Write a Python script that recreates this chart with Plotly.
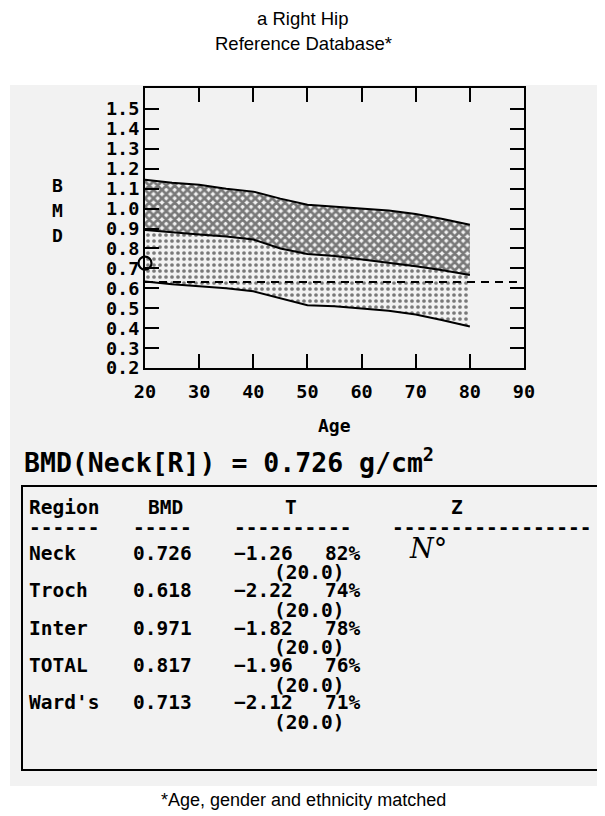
import plotly.graph_objects as go

# ---------------- data ----------------
ages = [20, 25, 30, 35, 40, 45, 50, 55, 60, 65, 70, 75, 80]
upper_bmd = [1.145, 1.13, 1.12, 1.10, 1.085, 1.05, 1.019, 1.01, 1.002, 0.99, 0.973, 0.948, 0.919]
mean_bmd = [0.893, 0.88, 0.87, 0.86, 0.845, 0.80, 0.772, 0.762, 0.745, 0.727, 0.71, 0.69, 0.667]
lower_bmd = [0.634, 0.62, 0.61, 0.60, 0.585, 0.55, 0.515, 0.51, 0.50, 0.487, 0.468, 0.44, 0.408]

young_ref_age = [20, 88.7]
young_ref_bmd = [0.632, 0.632]

patient_age = [20]
patient_bmd = [0.726]

y_ticks = [0.2, 0.3, 0.4, 0.5, 0.6, 0.7, 0.8, 0.9, 1.0, 1.1, 1.2, 1.3, 1.4, 1.5]
x_ticks = [20, 30, 40, 50, 60, 70, 80, 90]

regions = ["Neck", "Troch", "Inter", "TOTAL", "Ward's"]
bmd_vals = ["0.726", "0.618", "0.971", "0.817", "0.713"]
t_scores = ["\u22121.26", "\u22122.22", "\u22121.82", "\u22121.96", "\u22122.12"]
t_pcts = ["82%", "74%", "78%", "76%", "71%"]
t_ages = ["(20.0)", "(20.0)", "(20.0)", "(20.0)", "(20.0)"]

# ---------------- layout geometry (reference-window pixels) ----------------
OFF = 8                      # default page body margin
W, H = 605 - OFF, 816 - OFF  # figure size so that it fills the window
L, R, T, B = 145, 524, 88, 368
PW, PH = R - L, B - T
MONO = "DejaVu Sans Mono"
SANS = "Liberation Sans"
BG = "#f2f2f2"
TBL = 19.5


def px(x):
    return (x - L) / PW


def py(y):
    return (B - y) / PH


fig = go.Figure()

# lower boundary
fig.add_trace(go.Scatter(x=ages, y=lower_bmd, mode="lines",
                         line=dict(color="black", width=2), showlegend=False))
# dotted band
fig.add_trace(go.Scatter(x=ages, y=mean_bmd, mode="lines", fill="tonexty",
                         fillcolor=BG,
                         fillpattern=dict(shape=".", size=6, solidity=0.3,
                                          fgcolor="black", bgcolor=BG),
                         line=dict(color="black", width=2), showlegend=False))
# hatched band
fig.add_trace(go.Scatter(x=ages, y=upper_bmd, mode="lines", fill="tonexty",
                         fillcolor=BG,
                         fillpattern=dict(shape="x", size=6, solidity=0.7,
                                          fgcolor="black", bgcolor=BG),
                         line=dict(color="black", width=2), showlegend=False))
# young adult reference line
fig.add_trace(go.Scatter(x=young_ref_age, y=young_ref_bmd, mode="lines",
                         line=dict(color="black", width=2, dash="8px,6px"),
                         showlegend=False))
# patient
fig.add_trace(go.Scatter(x=patient_age, y=patient_bmd, mode="markers",
                         marker=dict(symbol="circle-open", size=13,
                                     color="black", line=dict(width=2.2)),
                         cliponaxis=False, showlegend=False))

axis_common = dict(showline=True, linecolor="black", linewidth=2, mirror="ticks",
                   ticks="inside", ticklen=14, tickwidth=2, tickcolor="black",
                   showgrid=False, zeroline=False,
                   tickfont=dict(family=MONO, size=18.5, color="black", weight="bold"))

fig.update_xaxes(range=[20, 90], tickvals=x_ticks,
                 ticktext=[str(v) for v in x_ticks], ticklabelstandoff=6,
                 **axis_common)
fig.update_yaxes(range=[0.2, 1.605], tickvals=y_ticks,
                 ticktext=["%.1f" % v for v in y_ticks], **axis_common)

ann = []


def text(s, x, y, size, family=MONO, xanchor="left", bold=True, italic=False):
    ann.append(dict(text=s, x=px(x), y=py(y), xref="paper", yref="paper",
                    xanchor=xanchor, yanchor="middle", showarrow=False,
                    font=dict(family=family, size=size, color="black",
                              weight="bold" if bold else "normal",
                              style="italic" if italic else "normal")))


# titles
text("a Right Hip", 303, 18, 18.5, family=SANS, xanchor="center", bold=False)
text("Reference Database*", 303, 44, 18.5, family=SANS, xanchor="center", bold=False)
text("*Age, gender and ethnicity matched", 303, 800, 18, family=SANS,
     xanchor="center", bold=False)

# y axis title stacked letters
for i, ch in enumerate("BMD"):
    text(ch, 57, 185 + 25 * i, 18, xanchor="center")

text("Age", 334, 425, 18, xanchor="center")

# BMD summary line
text("BMD(Neck[R]) = 0.726 g/cm<sup>2</sup>", 22, 461, 26.5)

# table
text("Region", 27, 507, TBL)
text("BMD", 146, 507, TBL)
text("T", 291, 507, TBL, xanchor="center")
text("Z", 457, 507, TBL, xanchor="center")
text("------", 27, 527, TBL)
text("-----", 131, 527, TBL)
text("----------", 232, 527, TBL)
text("-----------------", 390, 527, TBL)

row_y0 = 553
row_step = 37.5
for i in range(len(regions)):
    y = row_y0 + i * row_step
    text(regions[i], 27, y, TBL)
    text(bmd_vals[i], 131, y, TBL)
    text(t_scores[i], 232, y, TBL)
    text(t_pcts[i], 362, y, TBL, xanchor="right")
    text(t_ages[i], 272, y + 19.5, TBL)

# handwritten note
text("N\u00b0", 428, 548, 27, family="DejaVu Serif", xanchor="center",
     bold=False, italic=True)

shapes = [
    # photo background
    dict(type="rect", xref="paper", yref="paper", layer="below",
         x0=px(10), x1=px(640), y0=py(85), y1=py(786),
         fillcolor=BG, line=dict(width=0)),
    # table frame
    dict(type="rect", xref="paper", yref="paper",
         x0=px(22), x1=px(660), y0=py(486), y1=py(770),
         line=dict(color="black", width=2), fillcolor="rgba(0,0,0,0)"),
]

fig.update_layout(width=W, height=H, autosize=False,
                  margin=dict(l=L - OFF, r=605 - R, t=T - OFF, b=816 - B),
                  paper_bgcolor="white", plot_bgcolor=BG,
                  annotations=ann, shapes=shapes, showlegend=False)

fig.write_html("out.html")
